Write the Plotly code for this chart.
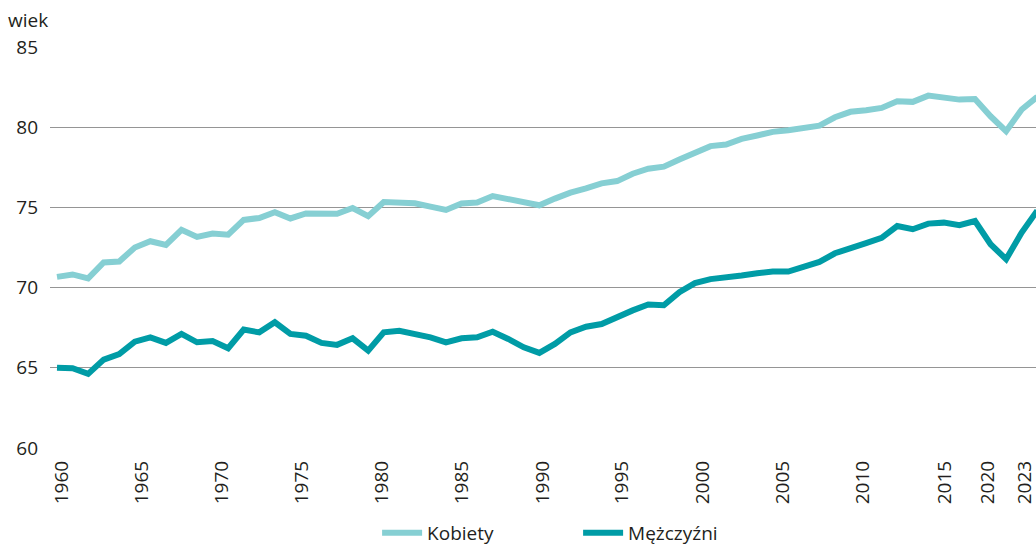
import plotly.graph_objects as go

years = list(range(1960, 2024))

kobiety = [
    70.67, 70.82, 70.57, 71.57, 71.63, 72.50, 72.89, 72.66, 73.60, 73.16,
    73.37, 73.30, 74.22, 74.34, 74.70, 74.31, 74.62, 74.57, 74.60, 74.96,
    74.45, 75.34, 75.30, 75.26, 75.05, 74.84, 75.24, 75.30, 75.71, 75.50,
    75.30, 75.13, 75.55, 75.92, 76.19, 76.50, 76.64, 77.10, 77.41, 77.54,
    77.99, 78.45, 78.82, 78.92, 79.27, 79.48, 79.71, 79.81, 80.00, 80.10,
    80.62, 80.96, 81.06, 81.20, 81.62, 81.58, 81.97, 81.83, 81.72, 81.76,
    80.68, 79.75, 81.10, 81.90,
]

mezczyzni = [
    65.00, 64.97, 64.62, 65.51, 65.86, 66.63, 66.90, 66.55, 67.11, 66.59,
    66.67, 66.22, 67.38, 67.21, 67.84, 67.11, 67.00, 66.55, 66.43, 66.84,
    66.07, 67.21, 67.31, 67.11, 66.90, 66.59, 66.84, 66.90, 67.25, 66.80,
    66.28, 65.93, 66.49, 67.21, 67.56, 67.73, 68.18, 68.58, 68.95, 68.90,
    69.72, 70.28, 70.53, 70.62, 70.76, 70.90, 71.00, 71.00, 71.32, 71.60,
    72.14, 72.50, 72.77, 73.10, 73.84, 73.64, 73.99, 74.05, 73.89, 74.15,
    72.70, 71.77, 73.43, 74.80,
]

tick_labels = ["1960", "1965", "1970", "1975", "1980", "1985", "1990",
               "1995", "2000", "2005", "2010", "2015", "2020", "2023"]
# label placement along the axis as drawn in the original
tick_positions = [1960.30, 1965.44, 1970.58, 1975.73, 1980.87, 1986.01, 1991.23,
                  1996.31, 2001.52, 2006.66, 2011.80, 2017.07, 2019.83, 2022.21]

y_ticks = [60, 65, 70, 75, 80, 85]

FONT = "Open Sans, Noto Sans, DejaVu Sans, sans-serif"
TEXT = "#231f20"

fig = go.Figure()
fig.add_trace(go.Scatter(
    x=years, y=kobiety, mode="lines", name="Kobiety",
    line=dict(color="#86cfd3", width=6),
))
fig.add_trace(go.Scatter(
    x=years, y=mezczyzni, mode="lines", name="Mężczyźni",
    line=dict(color="#009ca6", width=6),
))

fig.update_layout(
    width=1036, height=546,
    margin=dict(l=50, r=0, t=47, b=98, autoexpand=False),
    paper_bgcolor="white", plot_bgcolor="white",
    font=dict(family=FONT, size=18, color=TEXT),
    showlegend=True,
    legend=dict(
        orientation="h", xref="container", yref="container",
        x=0.364, xanchor="left", y=0.024, yanchor="middle",
        font=dict(size=19, color=TEXT), entrywidth=146, entrywidthmode="pixels",
        itemwidth=40,
    ),
    xaxis=dict(
        range=[1959.55, 2022.92], showgrid=False, zeroline=False,
        showline=False, tickmode="array", tickvals=tick_positions,
        ticktext=tick_labels, tickangle=-90, ticks="",
        tickfont=dict(size=19, color=TEXT), ticklabelstandoff=8,
        ticklabeloverflow="allow", automargin=False,
    ),
    yaxis=dict(
        range=[60, 85], tickmode="array", tickvals=y_ticks,
        showgrid=True, gridcolor="#959595", gridwidth=1.3,
        zeroline=False, showline=False, ticks="",
        tickfont=dict(size=19, color=TEXT), ticklabelstandoff=11,
        automargin=False,
    ),
    annotations=[dict(
        text="wiek", xref="paper", yref="paper", x=-0.045, y=1.067,
        xanchor="left", yanchor="middle", showarrow=False,
        font=dict(size=19, color=TEXT),
    )],
)

# remove the browser's default page margin so the figure fills the window
fig.write_html(
    "out.html",
    config={"displayModeBar": False},
    post_script="document.body.style.margin='0';document.body.style.overflow='hidden';",
)
